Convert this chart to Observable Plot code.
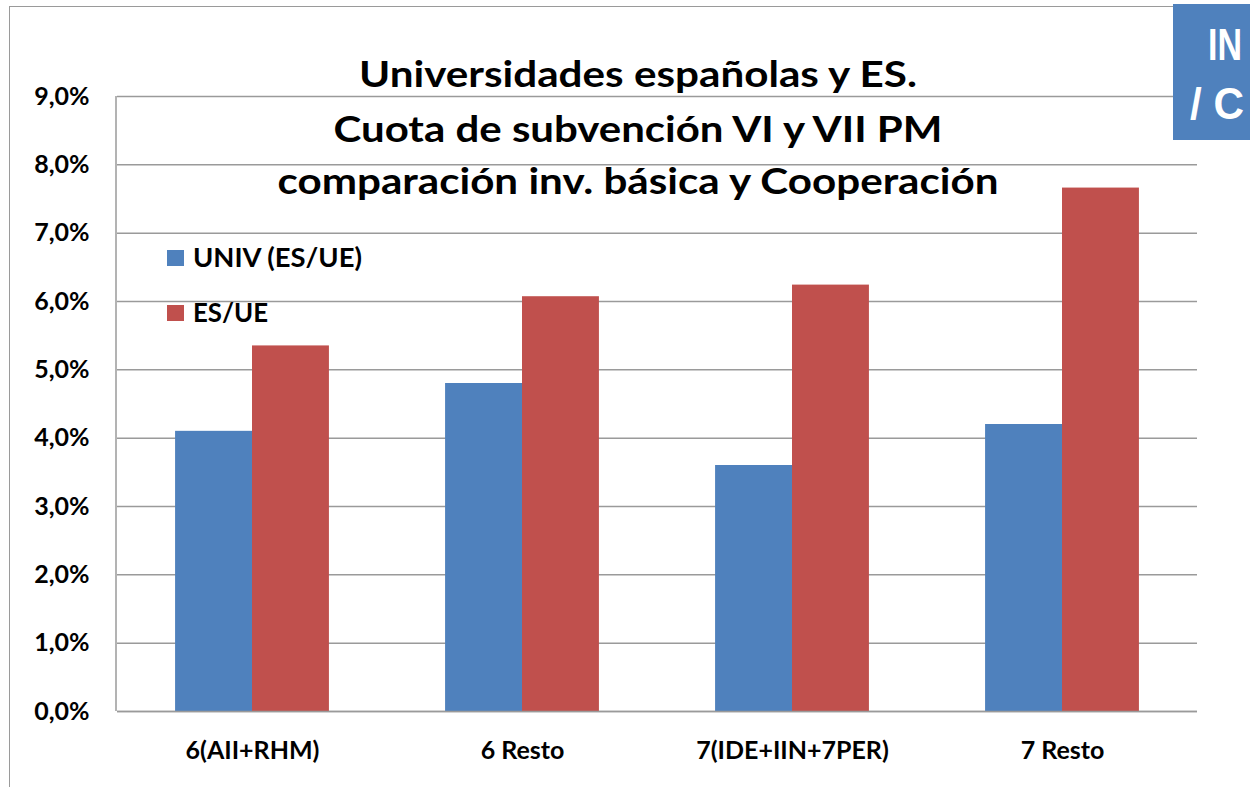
<!DOCTYPE html>
<html>
<head>
<meta charset="utf-8">
<script src="https://cdn.jsdelivr.net/npm/d3@7"></script>
<script src="https://cdn.jsdelivr.net/npm/@observablehq/plot@0.6"></script>
<style>
  html, body { margin: 0; padding: 0; background: #fff; overflow: hidden; }
  #wrap { position: relative; width: 1250px; height: 787px; }
  #frame { position: absolute; left: 9px; top: 6px; width: 1400px; height: 900px;
           border-left: 1.5px solid #9a9a9a; border-top: 1.5px solid #9a9a9a; }
  #chart { position: absolute; left: 0; top: 0; }
  #overlay { position: absolute; left: 0; top: 0; pointer-events: none; }
  #box { position: absolute; left: 1173px; top: 4px; width: 120px; height: 136px; background: #4F81BD; }
</style>
</head>
<body>
<div id="wrap">
  <div id="frame"></div>
  <div id="chart"></div>
  <div id="box"></div>
  <svg id="overlay" width="1250" height="787"></svg>
</div>
<script>
// ---- data ----
const categories = ["6(AII+RHM)", "6 Resto", "7(IDE+IIN+7PER)", "7 Resto"];
const seriesNames = ["UNIV (ES/UE)", "ES/UE"];
const univValues = [0.041, 0.048, 0.036, 0.042];
const esValues = [0.0535, 0.0607, 0.0624, 0.0766];
const yTicks = [0, 0.01, 0.02, 0.03, 0.04, 0.05, 0.06, 0.07, 0.08, 0.09];
const seriesColors = ["#4F81BD", "#C0504D"];
const titleLines = ["Universidades españolas y ES.", "Cuota de subvención VI y VII PM", "comparación inv. básica y Cooperación"];
const boxLines = ["IN", "/ C"];

const rows = [];
categories.forEach((c, i) => {
  rows.push({category: c, series: seriesNames[0], value: univValues[i]});
  rows.push({category: c, series: seriesNames[1], value: esValues[i]});
});

const fmt = d => (d * 100).toFixed(1).replace(".", ",") + "%";

const chart = Plot.plot({
  width: 1250,
  height: 787,
  marginLeft: 116,
  marginRight: 53,
  marginTop: 96,
  marginBottom: 76,
  style: {fontFamily: "Lato", fontSize: "25px", fontWeight: "bold", color: "#000", background: "transparent", overflow: "visible"},
  fx: {domain: categories, padding: 0, label: null, tickSize: 0, tickPadding: 30, axis: "bottom"},
  x: {domain: seriesNames, paddingInner: 0, paddingOuter: 0.755, axis: null, round: false},
  y: {domain: [0, 0.09], ticks: yTicks, tickFormat: fmt, tickSize: 0, tickPadding: 28, label: null},
  color: {domain: seriesNames, range: seriesColors},
  marks: [
    Plot.gridY(yTicks, {stroke: "#9a9a9a", strokeOpacity: 1, strokeWidth: 1.5}),
    Plot.barY(rows, {fx: "category", x: "series", y: "value", fill: "series"}),
    Plot.ruleY([0], {stroke: "#9a9a9a", strokeWidth: 1.5})
  ]
});
document.getElementById("chart").appendChild(chart);

// left axis line, from the scales
const ns = "http://www.w3.org/2000/svg";
const ys = chart.scale("y");
const fxs = chart.scale("fx");
const axisLine = document.createElementNS(ns, "line");
axisLine.setAttribute("x1", fxs.range[0]);
axisLine.setAttribute("x2", fxs.range[0]);
axisLine.setAttribute("y1", ys.range[0]);
axisLine.setAttribute("y2", ys.range[1]);
axisLine.setAttribute("stroke", "#9a9a9a");
axisLine.setAttribute("stroke-width", 1.5);
chart.appendChild(axisLine);

// overlay texts: title, legend, box
const ov = document.getElementById("overlay");
function addText(str, attrs) {
  const t = document.createElementNS(ns, "text");
  for (const k in attrs) t.setAttribute(k, attrs[k]);
  t.textContent = str;
  ov.appendChild(t);
  return t;
}
const titleLayout = [{y: 87, w: 558}, {y: 142, w: 609}, {y: 194, w: 721}];
titleLines.forEach((s, i) => addText(s, {
  x: 638, y: titleLayout[i].y, "text-anchor": "middle", "font-family": "Lato", "font-weight": "bold",
  "font-size": 36, textLength: titleLayout[i].w, lengthAdjust: "spacingAndGlyphs", fill: "#000"
}));

const legendLayout = [{y: 267, w: 169}, {y: 322, w: 75}];
seriesNames.forEach((s, i) => {
  const r = document.createElementNS(ns, "rect");
  r.setAttribute("x", 167); r.setAttribute("y", legendLayout[i].y - 17);
  r.setAttribute("width", 17); r.setAttribute("height", 16);
  r.setAttribute("fill", seriesColors[i]);
  ov.appendChild(r);
  addText(s, {x: 193, y: legendLayout[i].y, "font-family": "Lato", "font-weight": "bold", "font-size": 26,
    textLength: legendLayout[i].w, lengthAdjust: "spacingAndGlyphs", fill: "#000"});
});

addText(boxLines[0], {x: 1208, y: 60, "font-family": "Liberation Sans", "font-weight": "bold", "font-size": 44,
  textLength: 34, lengthAdjust: "spacingAndGlyphs", fill: "#fff"});
addText(boxLines[1], {x: 1190, y: 119, "font-family": "Liberation Sans", "font-weight": "bold", "font-size": 44,
  textLength: 54, lengthAdjust: "spacingAndGlyphs", fill: "#fff"});
</script>
</body>
</html>
